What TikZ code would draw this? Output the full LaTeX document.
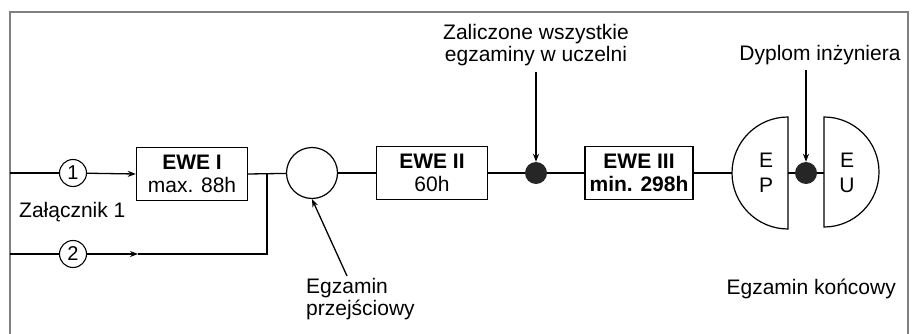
\documentclass[tikz,border=0pt]{standalone}
\usepackage{fontspec}
\setmainfont{Liberation Sans}
\usetikzlibrary{arrows.meta,calc}
\begin{document}
\begin{tikzpicture}[x=1pt,y=-1pt,
  txt/.style={font=\fontsize{21}{22.5}\selectfont, inner sep=0pt, align=center},
  ewebox/.style={draw, line width=1.4pt, minimum height=53pt, inner sep=0pt, align=center, font=\fontsize{21}{23}\selectfont},
  numcirc/.style={draw, circle, line width=1.1pt, minimum size=27pt, inner sep=0pt, font=\fontsize{20}{20}\selectfont},
  dotnode/.style={fill=black!85, circle, minimum size=22pt, inner sep=0pt},
  conn/.style={line width=1.3pt},
  arr/.style={line width=1.3pt, -{Stealth[length=8pt,width=6pt]}},
  frame/.style={draw=black!50, line width=1.8pt}
]
\useasboundingbox (0,0) rectangle (917,334);
\fill[white] (0,0) rectangle (917,334);
% frame
\draw[frame] (10,334) -- (10,12) -- (908,12) -- (908,334);
% nodes
\coordinate (s1) at (10,173);
\coordinate (s2) at (10,254);
\node[numcirc] (c1) at (73,173) {1};
\node[numcirc] (c2) at (73,254) {2};
\node[ewebox, minimum width=111pt] (e1) at (192,174) {\textbf{EWE I}\\max. 88h};
\node[draw, circle, line width=1.2pt, minimum size=51pt, inner sep=0pt] (open) at (312,173) {};
\node[ewebox, minimum width=111pt] (e2) at (432,173) {\textbf{EWE II}\\60h};
\node[dotnode] (d1) at (536,173) {};
\node[ewebox, minimum width=108pt] (e3) at (639,173) {\textbf{EWE III}\\\textbf{min. 298h}};
\node[dotnode] (d2) at (806,173) {};
% half circles
\coordinate (epc) at (788,173);
\coordinate (euc) at (824,173);
\draw[line width=1.2pt] (788,229) arc[start angle=90, end angle=270, radius=56] -- cycle;
\draw[line width=1.2pt] (824,117) arc[start angle=-90, end angle=90, radius=55] -- cycle;
\node[txt, font=\fontsize{21}{25}\selectfont] (ep) at (766,173) {E\\P};
\node[txt, font=\fontsize{21}{25}\selectfont] (eu) at (847,173) {E\\U};
\coordinate (epl) at (732,173);
% labels
\node[txt, anchor=west] (zal) at (19,212) {Załącznik 1};
\node[txt] (zalicz) at (536,45) {Zaliczone wszystkie\\egzaminy w uczelni};
\node[txt] (dyplom) at (820,55) {Dyplom inżyniera};
\node[txt, align=left, anchor=north west] (przej) at (306,278) {Egzamin\\przejściowy};
\node[txt, anchor=east] (konc) at (896,289) {Egzamin końcowy};
% connectors
\coordinate (j) at (267,173);
\coordinate (jb) at (267,254);
\coordinate (m2) at (138,254);
\draw[conn] (s1) -- (c1);
\draw[arr] (c1) -- (e1.west);
\draw[conn] (s2) -- (c2);
\draw[arr] (c2) -- (m2);
\draw[conn] (m2) -- (jb) -- (j);
\draw[conn] (e1.east) -- (open);
\draw[conn] (open) -- (e2);
\draw[conn] (e2) -- (d1);
\draw[conn] (d1) -- (e3);
\draw[conn] (e3) -- (epl);
\draw[conn] (epc) -- (d2) -- (euc);
\coordinate (a1) at (536,72);
\coordinate (a2) at (806,70);
\coordinate (a3) at (347,276);
\draw[arr] (a1) -- (d1.north);
\draw[arr] (a2) -- (d2.north);
\draw[arr] (a3) -- (open.south);
\end{tikzpicture}
\end{document}
